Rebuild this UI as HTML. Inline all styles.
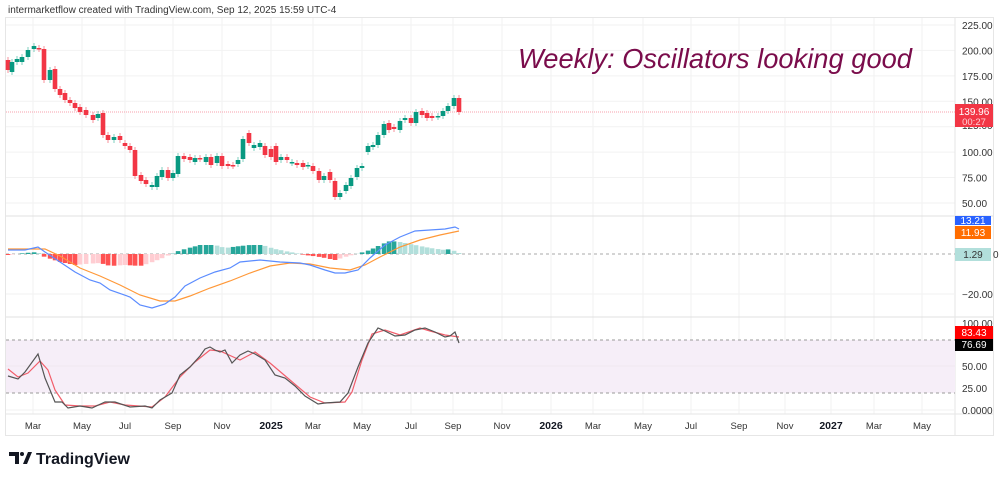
<!DOCTYPE html>
<html><head><meta charset="utf-8"><style>
body{margin:0;background:#fff;width:1000px;height:478px;overflow:hidden;font-family:"Liberation Sans",sans-serif}
svg text{font-family:"Liberation Sans",sans-serif}
</style></head><body>
<svg id="s" width="1000" height="478" xmlns="http://www.w3.org/2000/svg"></svg>
<script>
var o='';
function L(x1,y1,x2,y2,c,w,d){o+='<line x1="'+x1+'" y1="'+y1+'" x2="'+x2+'" y2="'+y2+'" stroke="'+c+'" stroke-width="'+(w||1)+'"'+(d?' stroke-dasharray="'+d+'"':'')+'/>';}
function R(x,y,w,h,c){o+='<rect x="'+x+'" y="'+y+'" width="'+w+'" height="'+h+'" fill="'+c+'"/>';}
function T(x,y,t,s,c,a,extra){o+='<text x="'+x+'" y="'+y+'" font-size="'+s+'" fill="'+c+'" text-anchor="'+(a||'start')+'" '+(extra||'')+'>'+t+'</text>';}
o+='<rect x="5.5" y="17.5" width="988" height="418" fill="none" stroke="#e6e6e6"/>';
var xs=[33,82,125,173,222,271,313,362,411,453,502,551,593,643,691,739,785,831,874,922];
xs.forEach(function(x){L(x,18,x,414,'#f2f2f2');});
[225,200,175,150,125,100,75,50].forEach(function(p){var y=25+(225-p)*1.017;L(6,y,955,y,'#f2f2f2');});
L(6,216,993,216,'#e0e0e0');L(6,317,993,317,'#e0e0e0');L(6,414,993,414,'#e6e6e6');L(955,18,955,435,'#e6e6e6');
[225,200,175,150,100,75,50].forEach(function(p){var y=25+(225-p)*1.017;T(962,y+4,p.toFixed(2),10,'#333');});
T(962,129,'125.00',10,'#333');
L(6,112,955,112,'#f7a1ae',1,'1 1');
var c=[[8,60,70,'r'],[12,62,72,'g'],[17,59,62,'g'],[22,57,62,'g'],[28,50,57,'g'],[34,46,49,'g'],[39,48,49,'r'],[44,49,80,'r'],[50,70,80,'g'],[55,69,89,'r'],[60,89,95,'r'],[65,93,100,'r'],[70,100,103,'r'],[75,103,108,'r'],[80,107,112,'r'],[86,110,115,'r'],[93,115,120,'r'],[98,114,118,'g'],[103,113,135,'r'],[108,135,140,'r'],[114,137,140,'g'],[120,136,140,'r'],[125,143,146,'r'],[130,146,150,'r'],[135,150,176,'r'],[141,175,181,'r'],[146,180,184,'r'],[152,185,187,'g'],[157,176,187,'g'],[162,170,177,'g'],[168,170,178,'r'],[173,173,178,'g'],[178,156,174,'g'],[184,156,159,'r'],[190,157,160,'r'],[195,158,162,'g'],[200,158,159,'r'],[206,157,162,'g'],[211,157,165,'r'],[217,156,163,'g'],[222,156,166,'r'],[228,164,166,'r'],[233,165,166,'r'],[238,160,164,'g'],[243,139,159,'g'],[249,133,143,'r'],[254,145,148,'g'],[260,143,147,'g'],[265,146,155,'r'],[271,149,157,'r'],[276,146,162,'r'],[281,157,160,'g'],[287,157,160,'r'],[292,162,163,'g'],[297,163,165,'r'],[303,163,167,'r'],[308,165,166,'g'],[313,166,171,'r'],[319,171,180,'r'],[324,176,180,'g'],[330,172,180,'r'],[335,181,197,'r'],[340,193,197,'g'],[346,185,191,'g'],[351,178,186,'g'],[357,168,177,'g'],[362,166,168,'g'],[368,146,152,'g'],[373,145,147,'g'],[378,135,145,'g'],[384,124,135,'g'],[389,123,130,'r'],[394,127,129,'r'],[400,121,130,'g'],[405,118,120,'g'],[411,118,123,'r'],[416,112,123,'g'],[422,111,115,'r'],[427,113,118,'r'],[432,116,118,'r'],[438,116,117,'g'],[443,111,116,'g'],[448,106,111,'g'],[454,98,106,'g'],[459,98,112,'r']];
c.forEach(function(k){var col=k[3]=='r'?'#f23645':'#089981';var wc=k[3]=='r'?'#f7919b':'#7fcfbf';L(k[0],k[1]-3,k[0],k[2]+3,wc,1);var h=Math.max(1.5,k[2]-k[1]);R(k[0]-2.3,k[1],4.6,h,col);});
T(518,68,'Weekly: Oscillators looking good',28,'#7a0c4b','start','font-style="italic" textLength="394" lengthAdjust="spacingAndGlyphs"');
R(955,104,38,23,'#f23645');T(974,115,'139.96',10,'#fff','middle');T(974,125,'00:27',9.5,'#ffd0d5','middle');
function interp(pts,x){for(var i=0;i<pts.length-1;i++){if(x>=pts[i][0]&&x<=pts[i+1][0]){var t=(x-pts[i][0])/(pts[i+1][0]-pts[i][0]);return pts[i][1]+t*(pts[i+1][1]-pts[i][1]);}}return pts[pts.length-1][1];}
var blue=[[8,250],[25,250],[38,247],[45,252],[60,262],[75,272],[90,280],[100,283],[110,290],[130,297],[140,305],[152,308],[165,304],[175,297],[185,286],[200,278],[215,272],[230,268],[240,262],[260,260],[280,262],[300,263],[310,265],[325,270],[335,273],[345,273],[358,270],[370,258],[385,245],[400,237],[415,231],[430,230],[445,229],[455,227],[459,229]];
var orng=[[8,249],[30,249],[45,249],[60,256],[80,268],[100,276],[120,285],[140,295],[160,301],[175,301],[190,296],[210,288],[230,281],[250,273],[270,266],[290,263],[310,264],[330,268],[350,270],[365,265],[380,257],[400,247],[420,240],[440,235],[459,231]];
var hist=[[8,-1],[25,1],[38,2],[42,-2],[60,-8],[75,-11],[85,-10],[100,-9],[110,-12],[125,-11],[140,-12],[150,-9],[165,-3],[175,2],[185,5],[200,9],[215,9],[225,6],[240,8],[250,9],[262,9],[275,5],[290,2],[300,0],[305,-1],[320,-3],[335,-6],[345,-3],[352,-1],[360,1],[370,4],[380,9],[390,13],[400,12],[415,9],[430,6],[445,4],[450,5],[459,1]];
L(6,254,955,254,'#aaa',1,'3 3');L(6,294,955,294,'#f2f2f2');
var prev=0;
c.forEach(function(k){var x=k[0];var d=interp(hist,x);var grow=Math.abs(d)>=Math.abs(prev)-0.01;var col=d>=0?(grow?'#26a69a':'#b2dfdb'):(grow?'#ff5252':'#ffcdd2');if(d>=0)R(x-2.2,254-d,4.6,d,col);else R(x-2.2,254,4.6,-d,col);prev=d;});
function P(pts,col){o+='<polyline fill="none" stroke="'+col+'" stroke-width="1.2" points="'+pts.map(function(p){return p.join(',')}).join(' ')+'"/>';}
P(orng,'#ff9838');P(blue,'#5b8cff');
R(955,216,36,9,'#2962ff');T(973,224,'13.21',10,'#fff','middle');
R(955,226,36,13,'#ff6d00');T(973,236,'11.93',10,'#fff','middle');
R(955,248,36,13,'#b2dfdb');T(973,258,'1.29',10,'#333','middle');T(993,258,'0',10,'#333');
T(962,298,'−20.00',10,'#333');
R(6,340,949,53,'#f6eef8');
L(6,340,955,340,'#999',1,'3 3');L(6,393,955,393,'#999',1,'3 3');L(6,366,955,366,'#f0e8f0');L(6,410,955,410,'#f2f2f2');
var blk=[[8,376],[18,379],[25,372],[38,354],[45,378],[55,402],[62,402],[68,408],[80,406],[92,408],[105,402],[115,402],[130,407],[145,406],[152,408],[160,400],[172,393],[180,375],[190,367],[200,356],[205,349],[210,347],[215,350],[220,352],[225,350],[232,363],[240,355],[248,351],[255,354],[265,360],[275,375],[285,378],[295,386],[305,396],[318,404],[325,403],[340,402],[348,393],[358,367],[368,343],[378,328],[385,331],[395,336],[405,335],[415,330],[425,328],[435,332],[445,337],[450,336],[455,332],[459,343]];
var red=[[8,369],[18,377],[28,373],[40,361],[48,370],[55,390],[65,405],[80,406],[95,406],[110,402],[125,405],[152,407],[165,397],[180,377],[195,362],[210,350],[220,351],[240,360],[255,352],[270,363],[290,380],[310,397],[325,403],[345,402],[352,392],[362,360],[372,334],[385,330],[400,335],[420,328],[430,331],[445,335],[459,337]];
P(red,'#f25d6a');P(blk,'#555');
T(962,327,'100.00',10,'#333');
R(955,326,38,13,'#ff0000');T(974,336,'83.43',10,'#fff','middle');
R(955,339,38,12,'#000');T(974,348,'76.69',10,'#fff','middle');
T(962,370,'50.00',10,'#333');T(962,392,'25.00',10,'#333');T(962,414,'0.0000',10,'#333');
var lb=['Mar','May','Jul','Sep','Nov','2025','Mar','May','Jul','Sep','Nov','2026','Mar','May','Jul','Sep','Nov','2027','Mar','May'];
xs.forEach(function(x,i){var b=/^20/.test(lb[i]);T(x,429,lb[i],b?10.5:9.5,b?'#131722':'#333','middle',b?'font-weight="bold"':'');});
T(8,13,'intermarketflow created with TradingView.com, Sep 12, 2025 15:59 UTC-4',10,'#333');
o+='<path d="M9 452h10v12h-4v-8h-6z M23 464l5-12h4l-5 12z" fill="#131722"/><circle cx="22" cy="454" r="2" fill="#131722"/>';
T(36,464,'TradingView',16,'#131722','start','font-weight="bold"');
document.getElementById('s').innerHTML=o;
</script>
</body></html>
